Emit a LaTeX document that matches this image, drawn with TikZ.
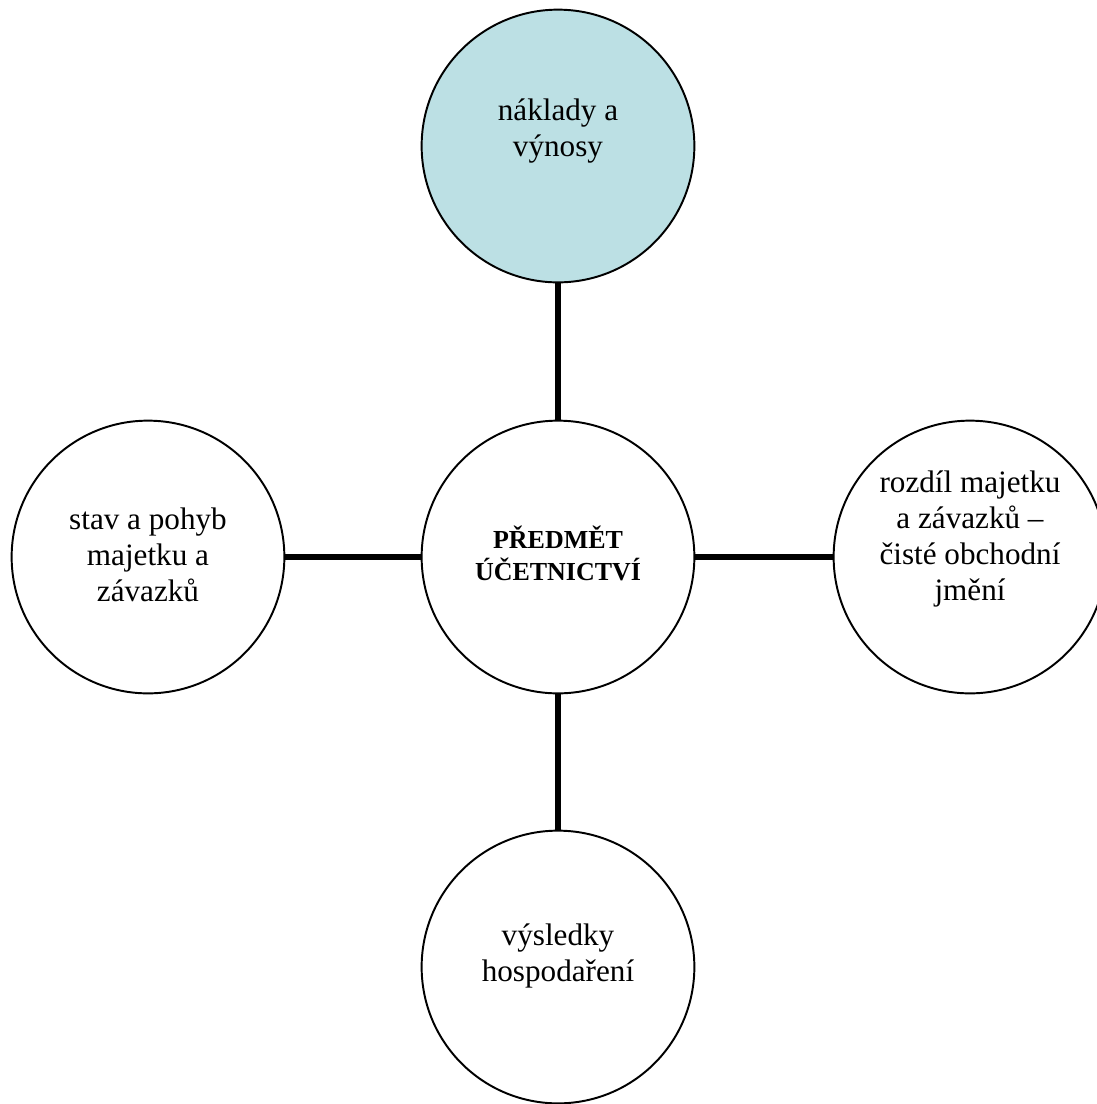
\documentclass[tikz,border=0pt]{standalone}
\usepackage{fontspec}
\setmainfont{Liberation Serif}
\definecolor{lightcyan}{RGB}{188,224,228}
\tikzset{
  topic/.style={circle, draw=black, line width=0.75pt, fill=white,
                inner sep=0pt, minimum size=105pt},
  caption/.style={align=center, inner sep=0pt,
                  font=\fontsize{12}{13.86}\selectfont},
  spoke/.style={line width=2pt, black}
}
\begin{document}
\begin{tikzpicture}[x=0.385pt, y=-0.385pt]
  \useasboundingbox (0,0) rectangle (1097,1104);

  % the five circles, the middle one first
  \node[topic] (mid) at (558,557) {};
  \node[topic, fill=lightcyan] (top) at (558,146) {};
  \node[topic] (left) at (148,557) {};
  \node[topic] (right) at (970,557) {};
  \node[topic] (bottom) at (558,967) {};

  % texts sit a little high in most of the circles
  \node[caption, font=\fontsize{10}{12.3}\selectfont\bfseries, yshift=1.3pt] (midText) at (mid) {PŘEDMĚT\\ÚČETNICTVÍ};
  \node[caption, yshift=5.8pt] (topText) at (top) {náklady a\\výnosy};
  \node[caption, yshift=0.8pt] (leftText) at (left) {stav a pohyb\\majetku a\\závazků};
  \node[caption, yshift=6.9pt] (rightText) at (right) {rozdíl majetku\\a závazků –\\čisté obchodní\\jmění};
  \node[caption, yshift=4.2pt] (bottomText) at (bottom) {výsledky\\hospodaření};

  % spokes from the middle
  \foreach \n in {top,left,right,bottom}{%
    \draw[spoke] (mid) -- (\n);
  }
\end{tikzpicture}
\end{document}
